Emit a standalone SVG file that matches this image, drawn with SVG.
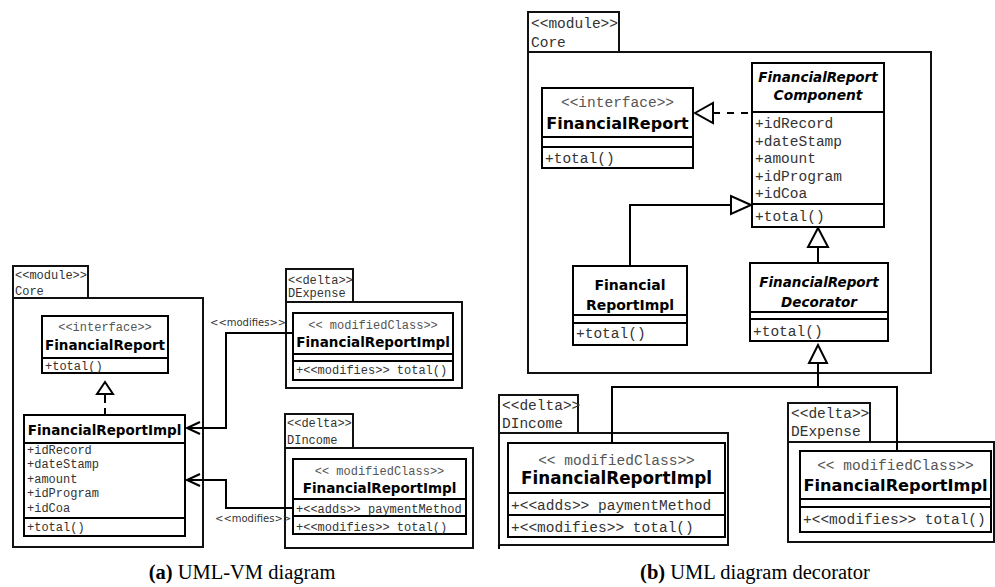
<svg xmlns="http://www.w3.org/2000/svg" width="995" height="587" viewBox="0 0 995 587">
  <style>
    .box { fill: #fff; stroke: #000; stroke-width: 2; }
    .pkg { fill: #fff; stroke: #111; stroke-width: 2; }
    .div { stroke: #000; stroke-width: 2; }
    .edge { fill: none; stroke: #000; stroke-width: 2; }
    .dash { fill: none; stroke: #000; stroke-width: 2; stroke-dasharray: 7 7; }
    .tri { fill: #fff; stroke: #000; stroke-width: 2; stroke-linejoin: miter; }
    .open { fill: none; stroke: #000; stroke-width: 2; }
    .m12 { font-family: "Liberation Mono", "DejaVu Sans Mono", monospace; font-size: 12px; fill: #333; }
    .m14 { font-family: "Liberation Mono", "DejaVu Sans Mono", monospace; font-size: 14.5px; fill: #333; }
    .st12 { font-family: "Liberation Mono", "DejaVu Sans Mono", monospace; font-size: 12px; fill: #555; text-anchor: middle; }
    .st14 { font-family: "Liberation Mono", "DejaVu Sans Mono", monospace; font-size: 14.5px; fill: #555; text-anchor: middle; }
    .nm { font-family: "DejaVu Sans", Verdana, sans-serif; font-weight: bold; fill: #000; text-anchor: middle; }
    .it { font-style: italic; }
    .lbl { font-family: "DejaVu Sans", sans-serif; font-size: 10px; fill: #333; }
    .cap { font-family: "Liberation Serif", "Times New Roman", serif; font-size: 20.5px; fill: #000; text-anchor: middle; }
  </style>

  <!-- ===== (a) UML-VM diagram ===== -->
  <g id="a-core">
    <rect class="pkg" x="13" y="266" width="75" height="32"/>
    <rect class="pkg" x="13" y="298" width="190" height="249"/>
    <text class="m12" x="15" y="279">&lt;&lt;module&gt;&gt;</text>
    <text class="m12" x="15" y="295">Core</text>
  </g>

  <g id="a-financial-report">
    <rect class="box" x="42" y="316" width="126" height="57"/>
    <text class="st12" x="105" y="331">&lt;&lt;interface&gt;&gt;</text>
    <text class="nm" x="105" y="350" font-size="13.5">FinancialReport</text>
    <line class="div" x1="42" y1="358" x2="168" y2="358"/>
    <text class="m12" x="45" y="370">+total()</text>
  </g>

  <g id="a-financial-report-impl">
    <rect class="box" x="24" y="415" width="161" height="121"/>
    <text class="nm" x="104.5" y="435" font-size="13.5">FinancialReportImpl</text>
    <line class="div" x1="24" y1="443" x2="185" y2="443"/>
    <text class="m12" x="27" y="454">+idRecord</text>
    <text class="m12" x="27" y="468">+dateStamp</text>
    <text class="m12" x="27" y="483">+amount</text>
    <text class="m12" x="27" y="497">+idProgram</text>
    <text class="m12" x="27" y="512">+idCoa</text>
    <line class="div" x1="24" y1="518" x2="185" y2="518"/>
    <text class="m12" x="27" y="531">+total()</text>
  </g>

  <g id="a-dexpense">
    <rect class="pkg" x="286" y="269" width="67" height="33"/>
    <rect class="pkg" x="286" y="302" width="176" height="86"/>
    <text class="m12" x="288" y="284">&lt;&lt;delta&gt;&gt;</text>
    <text class="m12" x="288" y="297">DExpense</text>
    <rect class="box" x="293" y="313" width="160" height="67"/>
    <text class="st12" x="373" y="329">&lt;&lt; modifiedClass&gt;&gt;</text>
    <text class="nm" x="373" y="347" font-size="13.5">FinancialReportImpl</text>
    <line class="div" x1="293" y1="354" x2="453" y2="354"/>
    <line class="div" x1="293" y1="361" x2="453" y2="361"/>
    <text class="m12" x="296" y="374">+&lt;&lt;modifies&gt;&gt; total()</text>
  </g>

  <g id="a-dincome">
    <rect class="pkg" x="285" y="414" width="68" height="34"/>
    <rect class="pkg" x="285" y="448" width="188" height="100"/>
    <text class="m12" x="287" y="427">&lt;&lt;delta&gt;&gt;</text>
    <text class="m12" x="287" y="444">DIncome</text>
    <rect class="box" x="293" y="459" width="173" height="75"/>
    <text class="st12" x="379.5" y="475">&lt;&lt; modifiedClass&gt;&gt;</text>
    <text class="nm" x="379.5" y="493" font-size="13.5">FinancialReportImpl</text>
    <line class="div" x1="293" y1="499" x2="466" y2="499"/>
    <text class="m12" x="296" y="513">+&lt;&lt;adds&gt;&gt; paymentMethod</text>
    <line class="div" x1="293" y1="516" x2="466" y2="516"/>
    <text class="m12" x="296" y="531">+&lt;&lt;modifies&gt;&gt; total()</text>
  </g>

  <!-- ===== (b) UML diagram decorator ===== -->
  <g id="b-core">
    <rect class="pkg" x="528" y="12" width="91" height="40"/>
    <rect class="pkg" x="528" y="52" width="403" height="321"/>
    <text class="m14" x="531" y="28">&lt;&lt;module&gt;&gt;</text>
    <text class="m14" x="531" y="47">Core</text>
  </g>

  <g id="b-financial-report">
    <rect class="box" x="542" y="88" width="151" height="80"/>
    <text class="st14" x="617.5" y="107">&lt;&lt;interface&gt;&gt;</text>
    <text class="nm" x="617.5" y="129" font-size="16">FinancialReport</text>
    <line class="div" x1="542" y1="137" x2="693" y2="137"/>
    <line class="div" x1="542" y1="147" x2="693" y2="147"/>
    <text class="m14" x="545" y="163">+total()</text>
  </g>

  <g id="b-component">
    <rect class="box" x="752" y="63" width="132" height="164"/>
    <text class="nm it" x="818" y="82" font-size="13.5">FinancialReport</text>
    <text class="nm it" x="818" y="100" font-size="13.8">Component</text>
    <line class="div" x1="752" y1="112" x2="884" y2="112"/>
    <text class="m14" x="755" y="128">+idRecord</text>
    <text class="m14" x="755" y="146">+dateStamp</text>
    <text class="m14" x="755" y="163">+amount</text>
    <text class="m14" x="755" y="181">+idProgram</text>
    <text class="m14" x="755" y="198">+idCoa</text>
    <line class="div" x1="752" y1="204" x2="884" y2="204"/>
    <text class="m14" x="755" y="221">+total()</text>
  </g>

  <g id="b-impl">
    <rect class="box" x="573" y="266" width="114" height="79"/>
    <text class="nm" x="630" y="290" font-size="14">Financial</text>
    <text class="nm" x="630" y="310" font-size="14">ReportImpl</text>
    <line class="div" x1="573" y1="315" x2="687" y2="315"/>
    <line class="div" x1="573" y1="323" x2="687" y2="323"/>
    <text class="m14" x="576" y="338">+total()</text>
  </g>

  <g id="b-decorator">
    <rect class="box" x="750" y="263" width="138" height="78"/>
    <text class="nm it" x="819" y="287" font-size="13.5">FinancialReport</text>
    <text class="nm it" x="819" y="307" font-size="13.5">Decorator</text>
    <line class="div" x1="750" y1="312" x2="888" y2="312"/>
    <line class="div" x1="750" y1="319" x2="888" y2="319"/>
    <text class="m14" x="753" y="336">+total()</text>
  </g>

  <g id="b-dincome">
    <rect class="pkg" x="499" y="395" width="79" height="38"/>
    <rect class="pkg" x="499" y="433" width="229" height="112"/>
    <line class="div" x1="499" y1="545" x2="499" y2="549"/>
    <text class="m14" x="502" y="410">&lt;&lt;delta&gt;&gt;</text>
    <text class="m14" x="502" y="428">DIncome</text>
    <rect class="box" x="508" y="443" width="217" height="94"/>
    <text class="st14" x="616.5" y="465">&lt;&lt; modifiedClass&gt;&gt;</text>
    <text class="nm" x="616.5" y="484" font-size="16.8">FinancialReportImpl</text>
    <line class="div" x1="508" y1="493" x2="725" y2="493"/>
    <text class="m14" x="511" y="510">+&lt;&lt;adds&gt;&gt; paymentMethod</text>
    <line class="div" x1="508" y1="515" x2="725" y2="515"/>
    <text class="m14" x="511" y="532">+&lt;&lt;modifies&gt;&gt; total()</text>
  </g>

  <g id="b-dexpense">
    <rect class="pkg" x="788" y="403" width="82" height="39"/>
    <rect class="pkg" x="788" y="442" width="206" height="100"/>
    <text class="m14" x="791" y="418">&lt;&lt;delta&gt;&gt;</text>
    <text class="m14" x="791" y="436">DExpense</text>
    <rect class="box" x="800" y="451" width="191" height="81"/>
    <text class="st14" x="895.5" y="470">&lt;&lt; modifiedClass&gt;&gt;</text>
    <text class="nm" x="895.5" y="491" font-size="16.2">FinancialReportImpl</text>
    <line class="div" x1="800" y1="499" x2="991" y2="499"/>
    <line class="div" x1="800" y1="507" x2="991" y2="507"/>
    <text class="m14" x="803" y="524">+&lt;&lt;modifies&gt;&gt; total()</text>
  </g>

  <!-- ===== connectors ===== -->
  <g id="connectors">
    <!-- (a) realization: Impl -> interface -->
    <line class="edge" x1="105" y1="394" x2="105" y2="415" stroke-dasharray="9 5"/>
    <polygon class="tri" points="105,382 97,394 113,394"/>
    <!-- (a) DExpense modifies Impl -->
    <polyline class="edge" points="293,333 226,333 226,428 187,428"/>
    <polyline class="open" points="200,422 187,428 200,434"/>
    <text class="lbl" x="210" y="326">&lt;&lt;modifies&gt;&gt;</text>
    <!-- (a) DIncome modifies Impl -->
    <polyline class="edge" points="293,508 226,508 226,480 187,480"/>
    <polyline class="open" points="200,474 187,480 200,486"/>
    <text class="lbl" x="215" y="522">&lt;&lt;modifies&gt;&gt;</text>

    <!-- (b) realization: Component -> interface -->
    <line class="dash" x1="713" y1="113" x2="752" y2="113"/>
    <polygon class="tri" points="695,113 713,103 713,123"/>
    <!-- (b) Impl generalizes Component -->
    <polyline class="edge" points="630,266 630,205 731,205"/>
    <polygon class="tri" points="751,205 731,196 731,214"/>
    <!-- (b) Decorator generalizes Component -->
    <line class="edge" x1="818" y1="247" x2="818" y2="263"/>
    <polygon class="tri" points="818,228 808,247 828,247"/>
    <!-- (b) delta classes generalize Decorator -->
    <polyline class="edge" points="818,363 818,387"/>
    <polyline class="edge" points="612,443 612,387 897,387 897,451"/>
    <polygon class="tri" points="818,345 809,363 827,363"/>
  </g>

  <!-- captions -->
  <g id="captions">
    <text class="cap" x="242" y="579"><tspan font-weight="bold">(a)</tspan> UML-VM diagram</text>
    <text class="cap" x="755" y="579"><tspan font-weight="bold">(b)</tspan> UML diagram decorator</text>
  </g>
</svg>
